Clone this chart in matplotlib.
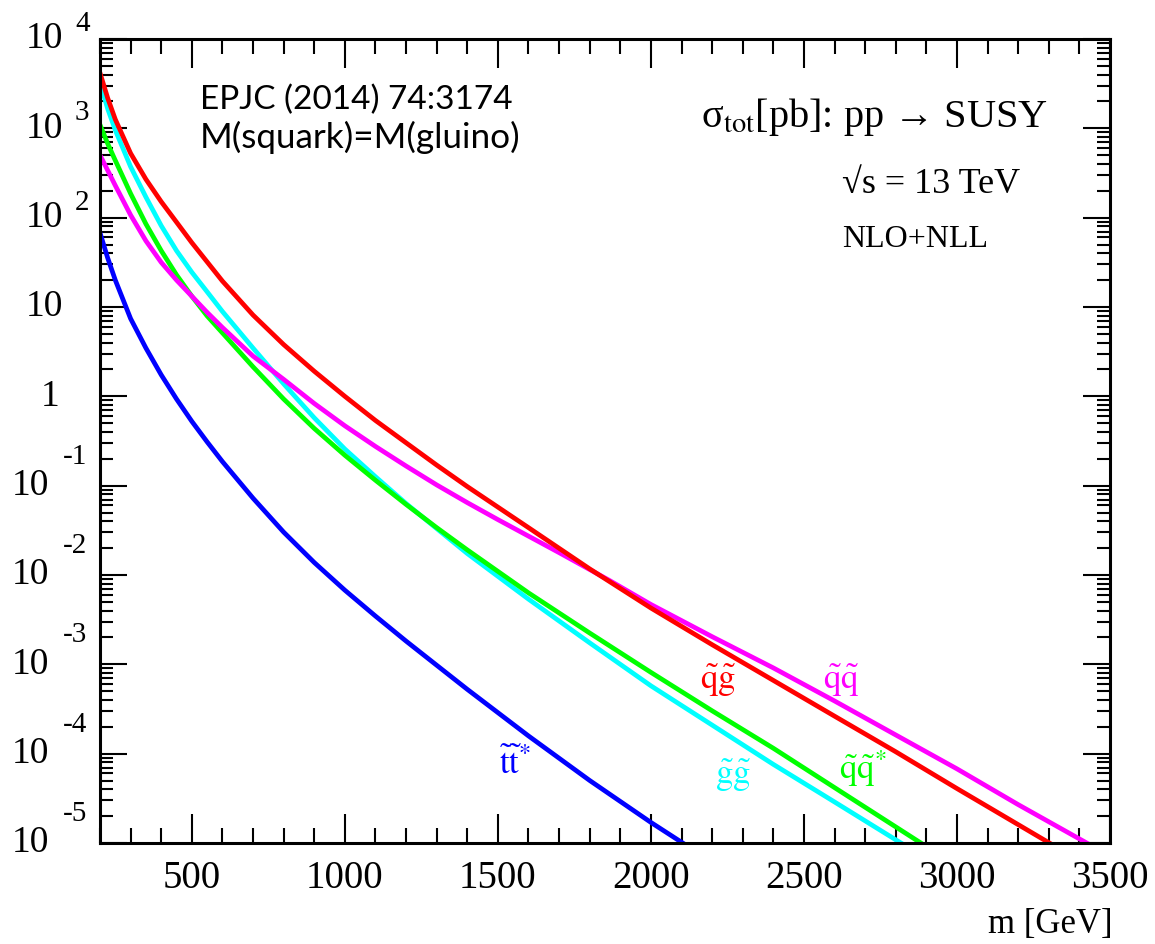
import numpy as np
import matplotlib
matplotlib.use('Agg')
import matplotlib.pyplot as plt
from matplotlib.ticker import MultipleLocator, LogLocator, NullFormatter
from matplotlib import transforms

plt.rcParams['mathtext.fontset'] = 'stix'
plt.rcParams['font.family'] = ['Liberation Serif', 'DejaVu Serif']

# masses [GeV] and cross sections [pb]
m_qg = [200, 225, 250, 300, 350, 400, 450, 500, 600, 700, 800, 900, 1000, 1100, 1200,
        1300, 1400, 1600, 1800, 2000, 2200, 2400, 2600, 2800, 3000, 3302]
s_qg = [4169, 2188, 1259, 525, 269, 151, 89.1, 52.5, 19.5, 8.13, 3.80, 1.91, 1.00, 0.537, 0.302,
        0.170, 0.0977, 0.0339, 0.0117, 4.27e-3, 1.66e-3, 6.61e-4, 2.63e-4, 1.05e-4, 4.07e-5, 1.0e-5]

m_qq = [200, 225, 250, 300, 350, 400, 450, 500, 550, 600, 700, 800, 900, 1000, 1100, 1200,
        1300, 1400, 1500, 1700, 1864, 2000, 2200, 2400, 2600, 2800, 3000, 3200, 3424]
s_qq = [501, 339, 229, 107, 55.0, 31.6, 20.0, 13.2, 8.71, 5.89, 2.82, 1.55, 0.832, 0.468, 0.275, 0.166,
        0.102, 0.0646, 0.0417, 0.0178, 8.71e-3, 4.68e-3, 2.04e-3, 9.12e-4, 3.89e-4, 1.62e-4, 6.76e-5,
        2.69e-5, 1.0e-5]

m_qqbar = [200, 225, 250, 300, 350, 400, 450, 500, 550, 600, 700, 800, 900, 1000, 1100, 1200,
           1300, 1400, 1600, 1800, 2000, 2200, 2400, 2600, 2882]
s_qqbar = [1096, 676, 437, 186, 85.1, 42.7, 22.9, 13.2, 7.94, 5.13, 2.14, 0.933, 0.437, 0.219, 0.115,
           0.0617, 0.0339, 0.0191, 6.31e-3, 2.24e-3, 8.13e-4, 3.02e-4, 1.15e-4, 4.17e-5, 1.0e-5]

m_gg = [200, 225, 250, 300, 350, 400, 450, 500, 550, 600, 700, 800, 900, 1000, 1100, 1200,
        1300, 1400, 1600, 1800, 2000, 2200, 2400, 2600, 2817]
s_gg = [3236, 1660, 955, 372, 170, 81.3, 42.7, 24.5, 14.8, 8.91, 3.47, 1.38, 0.575, 0.257, 0.126,
        0.0631, 0.0331, 0.0174, 5.37e-3, 1.74e-3, 5.75e-4, 2.09e-4, 7.59e-5, 2.88e-5, 1.0e-5]

m_tt = [200, 225, 250, 300, 350, 400, 450, 500, 550, 600, 700, 800, 900, 1000, 1100, 1200,
        1300, 1400, 1600, 1800, 2000, 2104]
s_tt = [67.6, 35.5, 20.0, 7.41, 3.47, 1.74, 0.933, 0.525, 0.309, 0.186, 0.0724, 0.0302, 0.0138,
        6.76e-3, 3.47e-3, 1.82e-3, 9.77e-4, 5.25e-4, 1.58e-4, 5.01e-5, 1.70e-5, 1.0e-5]

fig = plt.figure(figsize=(11.55, 9.44), dpi=100)
ax = fig.add_axes([100/1155, 101/944, 1010/1155, 804/944])

lw = 3.4
ax.plot(m_tt, s_tt, color='#0000ff', lw=lw)
ax.plot(m_gg, s_gg, color='#00ffff', lw=lw)
ax.plot(m_qqbar, s_qqbar, color='#00ff00', lw=lw)
ax.plot(m_qq, s_qq, color='#ff00ff', lw=lw)
ax.plot(m_qg, s_qg, color='#ff0000', lw=lw)

ax.set_yscale('log')
ax.set_xlim(200, 3500)
ax.set_ylim(1e-5, 1e4)

ax.xaxis.set_major_locator(MultipleLocator(500))
ax.xaxis.set_minor_locator(MultipleLocator(100))
ax.yaxis.set_major_locator(LogLocator(base=10, numticks=20))
ax.yaxis.set_minor_locator(LogLocator(base=10, subs=np.arange(2, 10), numticks=200))
ax.yaxis.set_minor_formatter(NullFormatter())

ax.tick_params(which='both', direction='in', top=True, right=True, width=1.5, color='black')
ax.tick_params(axis='x', which='major', length=21, labelsize=28, pad=12)
ax.tick_params(axis='x', which='minor', length=10.8)
ax.tick_params(axis='y', which='major', length=19.4, labelleft=False)
ax.tick_params(axis='y', which='minor', length=9.4)
for lbl in ax.get_xticklabels():
    lbl.set_family(['Liberation Serif', 'DejaVu Serif'])
for sp in ax.spines.values():
    sp.set_linewidth(2.2)

# ROOT style y labels: "10" with a raised exponent
ytr = transforms.blended_transform_factory(ax.transAxes, ax.transData)
for d in range(-5, 5):
    y = 10.0 ** d
    if d == 0:
        ax.text(-40/1010, y, '1', transform=ytr, ha='right', va='center', fontsize=27)
    elif d == 1:
        ax.text(-37/1010, y, '10', transform=ytr, ha='right', va='center', fontsize=27)
    elif d > 1:
        ax.text(-37/1010, y, '10', transform=ytr, ha='right', va='center', fontsize=27)
        t = transforms.offset_copy(ytr, fig=fig, y=8, units='dots')
        ax.text(-25/1010, y, str(d), transform=t, ha='left', va='baseline', fontsize=21)
    else:
        ax.text(-51/1010, y, '10', transform=ytr, ha='right', va='center', fontsize=27)
        t = transforms.offset_copy(ytr, fig=fig, y=22, units='dots')
        ax.text(-37/1010, y, str(d), transform=t, ha='left', va='baseline', fontsize=21)

# curve labels
ax.text(2219, 6.6e-4, r'$\mathrm{\tilde{q}\tilde{g}}$', color='#ff0000', fontsize=25, ha='center', va='center')
ax.text(2623, 6.6e-4, r'$\mathrm{\tilde{q}\tilde{q}}$', color='#ff00ff', fontsize=25, ha='center', va='center')
ax.text(2268, 5.7e-5, r'$\mathrm{\tilde{g}\tilde{g}}$', color='#00ffff', fontsize=25, ha='center', va='center')
ax.text(2613, 6.9e-5, r'$\mathrm{\tilde{q}\tilde{q}}^{*}$', color='#00ff00', fontsize=25, ha='left', va='center')
ax.text(1503, 7.4e-5, r'$\mathrm{\tilde{t}\tilde{t}}^{*}$', color='#0000ff', fontsize=25, ha='left', va='center')

# annotations
ax.text(0.099, 0.913, 'EPJC (2014) 74:3174', transform=ax.transAxes,
        family=['Lato', 'DejaVu Sans'], fontsize=24, ha='left', va='baseline')
ax.text(0.099, 0.864, 'M(squark)=M(gluino)', transform=ax.transAxes,
        family=['Lato', 'DejaVu Sans'], fontsize=25.3, ha='left', va='baseline')
ax.text(0.9386, 0.8905, 'σ$_{\\rm tot}$[pb]: pp → SUSY', transform=ax.transAxes,
        fontsize=29, ha='right', va='baseline')
ax.text(0.7347, 0.8085, '√s = 13 TeV', transform=ax.transAxes,
        fontsize=26, ha='left', va='baseline')
ax.text(0.7347, 0.7413, 'NLO+NLL', transform=ax.transAxes,
        fontsize=23, ha='left', va='baseline')

fig.text(1113/1155, 1 - 933/944, 'm [GeV]', fontsize=25, ha='right', va='baseline')

fig.savefig('out.png', dpi=100)
